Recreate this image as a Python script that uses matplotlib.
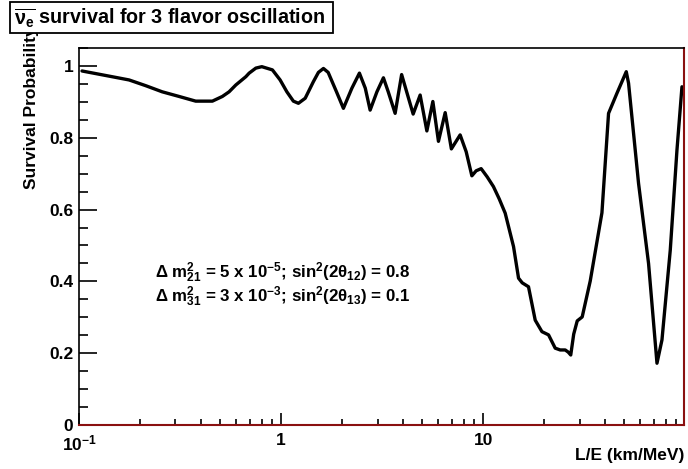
import matplotlib
matplotlib.use("Agg")
import matplotlib.pyplot as plt
from matplotlib.patches import Rectangle
from matplotlib.ticker import FixedLocator, FixedFormatter, MultipleLocator, NullFormatter

plt.rcParams['font.family'] = ['Liberation Sans', 'DejaVu Sans']
plt.rcParams['mathtext.default'] = 'regular'

# L/E (km/MeV) and survival probability
le_values = [0.1035, 0.1256, 0.146, 0.177, 0.214, 0.258, 0.313, 0.378, 0.457, 0.512,
             0.553, 0.597, 0.669, 0.695, 0.75, 0.803, 0.906, 0.989, 1.068, 1.15,
             1.218, 1.316, 1.444, 1.53, 1.62, 1.71, 1.88, 2.034, 2.24, 2.441,
             2.61, 2.758, 2.98, 3.209, 3.39, 3.667, 3.949, 4.503, 4.876, 5.264,
             5.636, 6.007, 6.486, 6.96, 7.69, 8.24, 8.79, 9.23, 9.77, 10.47,
             11.24, 12.0, 12.85, 14.13, 14.96, 15.6, 16.76, 18.09, 19.53, 21.06,
             22.72, 24.05, 25.46, 26.35, 27.12, 28.05, 29.2, 30.9, 33.86, 38.69,
             41.72, 45.91, 51.05, 52.4, 58.72, 65.81, 72.44, 76.68, 84.28, 90.97,
             96.3]
survival = [0.986, 0.977, 0.970, 0.961, 0.945, 0.928, 0.915, 0.902, 0.902, 0.915,
            0.928, 0.947, 0.970, 0.980, 0.994, 0.998, 0.989, 0.961, 0.928, 0.902,
            0.896, 0.910, 0.956, 0.982, 0.993, 0.982, 0.928, 0.882, 0.938, 0.980,
            0.938, 0.877, 0.928, 0.967, 0.928, 0.868, 0.976, 0.866, 0.919, 0.819,
            0.901, 0.790, 0.870, 0.769, 0.808, 0.761, 0.694, 0.708, 0.714, 0.691,
            0.664, 0.630, 0.590, 0.497, 0.409, 0.396, 0.385, 0.292, 0.260, 0.251,
            0.214, 0.209, 0.209, 0.203, 0.195, 0.253, 0.290, 0.301, 0.401, 0.591,
            0.868, 0.924, 0.984, 0.952, 0.673, 0.450, 0.172, 0.237, 0.487, 0.766,
            0.942]

x_major = [0.1, 1, 10]
x_major_labels = ['10$^{-1}$', '1', '10']
y_major = [0, 0.2, 0.4, 0.6, 0.8, 1]
y_major_labels = ['0', '0.2', '0.4', '0.6', '0.8', '1']

title_text = r'$\overline{\nu_{e}}$ survival for 3 flavor oscillation'
xlabel_text = 'L/E (km/MeV)'
ylabel_text = 'Survival Probability'
param_lines = [r'$\Delta$ m$^{2}_{21}$ = 5 x 10$^{-5}$; sin$^{2}$(2$\theta_{12}$) = 0.8',
               r'$\Delta$ m$^{2}_{31}$ = 3 x 10$^{-3}$; sin$^{2}$(2$\theta_{13}$) = 0.1']

W, H = 688, 469
fig = plt.figure(figsize=(W / 100, H / 100), dpi=100)
L, R, T, B = 79, 683.5, 48, 425
ax = fig.add_axes([L / W, 1 - B / H, (R - L) / W, (B - T) / H])

ax.plot(le_values, survival, color='black', lw=2.4, solid_joinstyle='round', solid_capstyle='round')
ax.set_xscale('log')
ax.set_xlim(0.1, 98)
ax.set_ylim(0, 1.05)

ax.xaxis.set_major_locator(FixedLocator(x_major))
ax.xaxis.set_major_formatter(FixedFormatter(x_major_labels))
minor_x = [m * d for d in (0.1, 1, 10) for m in range(2, 10)]
ax.xaxis.set_minor_locator(FixedLocator(minor_x))
ax.xaxis.set_minor_formatter(NullFormatter())
ax.yaxis.set_major_locator(FixedLocator(y_major))
ax.yaxis.set_major_formatter(FixedFormatter(y_major_labels))
ax.yaxis.set_minor_locator(MultipleLocator(0.05))

ax.tick_params(axis='both', which='both', direction='in', top=False, right=False, width=1.2, color='black')
ax.tick_params(axis='x', which='major', length=8.5, pad=6, labelsize=12.5)
ax.tick_params(axis='x', which='minor', length=4)
ax.tick_params(axis='y', which='major', length=13, pad=4, labelsize=12.5)
ax.tick_params(axis='y', which='minor', length=6.5)
for lab in ax.get_xticklabels() + ax.get_yticklabels():
    lab.set_fontweight('bold')

for s in ('left', 'top'):
    ax.spines[s].set_color('black')
    ax.spines[s].set_linewidth(1.2)
for s in ('bottom', 'right'):
    ax.spines[s].set_color('#8a1010')
    ax.spines[s].set_linewidth(1.5)

fig.text(32 / W, 1 - 189 / H, ylabel_text, rotation=90, ha='center', va='bottom',
         fontsize=12.5, fontweight='bold', zorder=1)

# title box
fig.patches.append(Rectangle((10 / W, 1 - 33 / H), 323 / W, 31 / H, transform=fig.transFigure,
                             facecolor='white', edgecolor='black', lw=1.3, zorder=2))
fig.text(14 / W, 1 - 18 / H, title_text, ha='left', va='center', fontsize=14.2,
         fontweight='bold', zorder=3)

fig.text(684 / W, 1 - 455 / H, xlabel_text, ha='right', va='center', fontsize=12.5, fontweight='bold')

fig.text(155 / W, 1 - 273 / H, param_lines[0], ha='left', va='center', fontsize=12.2, fontweight='bold')
fig.text(155 / W, 1 - 297 / H, param_lines[1], ha='left', va='center', fontsize=12.2, fontweight='bold')

fig.savefig('out.png', dpi=100)
